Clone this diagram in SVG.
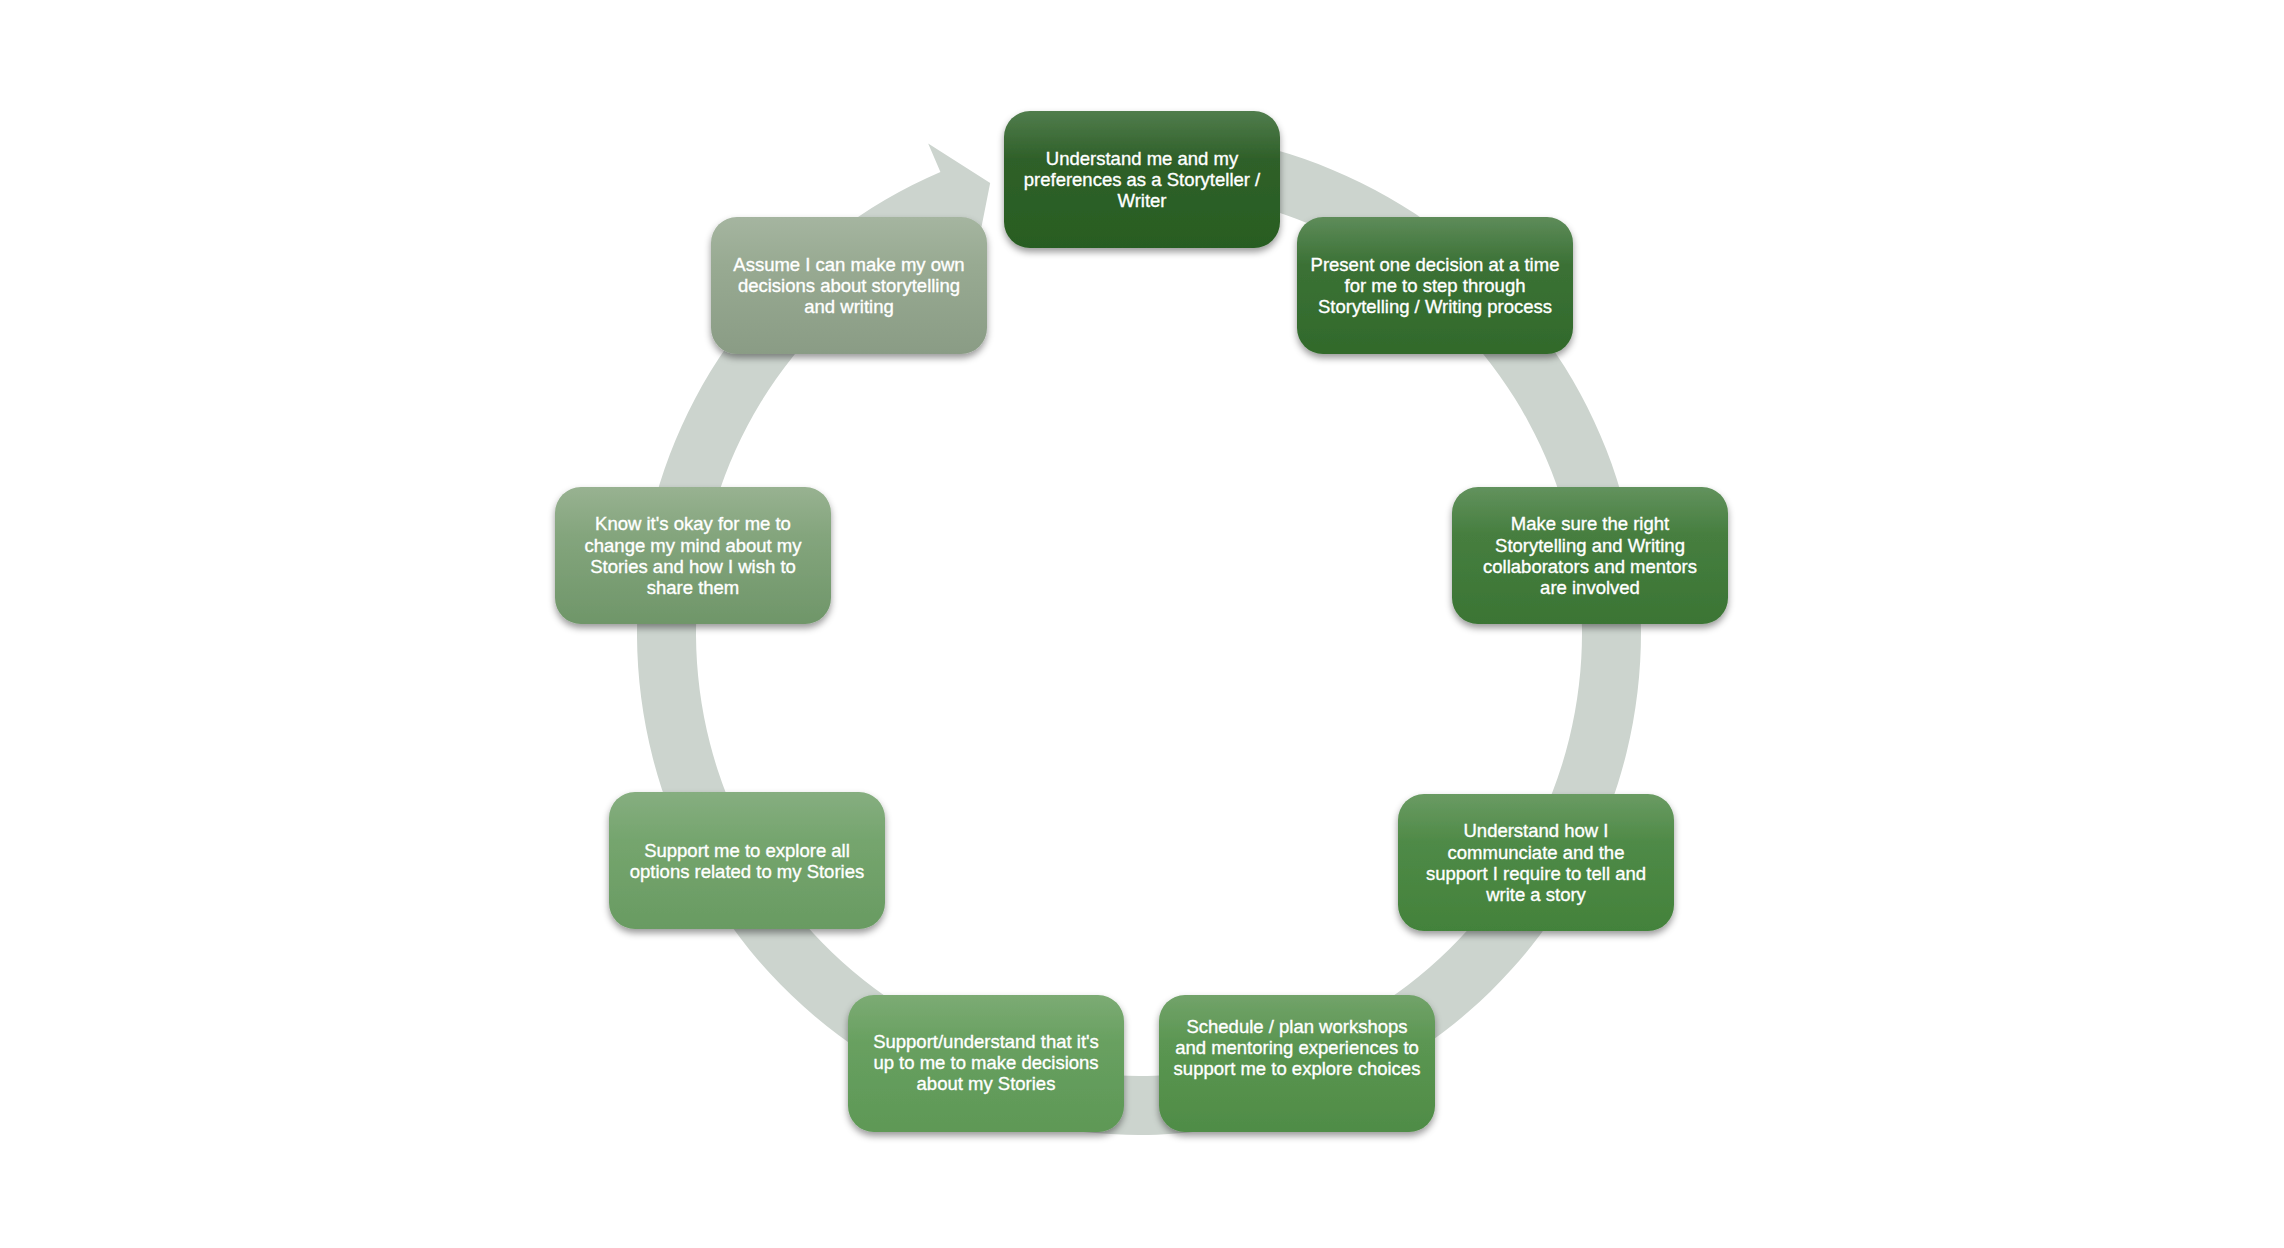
<svg xmlns="http://www.w3.org/2000/svg" width="2284" height="1248" viewBox="0 0 2284 1248">
<style>
.box{filter:url(#sh);}
.t{font-family:"Liberation Sans",Arial,sans-serif;font-size:18.5px;fill:#ffffff;stroke:#ffffff;stroke-width:0.35px;text-anchor:middle;}
.ring{fill:#ccd4ce;}
</style>
<defs>
<filter id="sh" x="-10%" y="-10%" width="120%" height="130%">
<feDropShadow dx="0" dy="4" stdDeviation="3.5" flood-color="#000" flood-opacity="0.4"/>
</filter>
<linearGradient id="g1" x1="0" y1="0" x2="0" y2="1"><stop offset="0" stop-color="#517d4d"/><stop offset="0.35" stop-color="#2f6029"/><stop offset="1" stop-color="#285d22"/></linearGradient>
<linearGradient id="g2" x1="0" y1="0" x2="0" y2="1"><stop offset="0" stop-color="#5e8c5a"/><stop offset="0.35" stop-color="#3b7135"/><stop offset="1" stop-color="#316a2b"/></linearGradient>
<linearGradient id="g3" x1="0" y1="0" x2="0" y2="1"><stop offset="0" stop-color="#62925d"/><stop offset="0.35" stop-color="#467e3f"/><stop offset="1" stop-color="#3b7534"/></linearGradient>
<linearGradient id="g4" x1="0" y1="0" x2="0" y2="1"><stop offset="0" stop-color="#6a9b63"/><stop offset="0.35" stop-color="#4f8a47"/><stop offset="1" stop-color="#43823b"/></linearGradient>
<linearGradient id="g5" x1="0" y1="0" x2="0" y2="1"><stop offset="0" stop-color="#72a36a"/><stop offset="0.35" stop-color="#5b9652"/><stop offset="1" stop-color="#4f8c46"/></linearGradient>
<linearGradient id="g6" x1="0" y1="0" x2="0" y2="1"><stop offset="0" stop-color="#7cab74"/><stop offset="0.35" stop-color="#68a060"/><stop offset="1" stop-color="#5e9856"/></linearGradient>
<linearGradient id="g7" x1="0" y1="0" x2="0" y2="1"><stop offset="0" stop-color="#86ae80"/><stop offset="0.35" stop-color="#75a56e"/><stop offset="1" stop-color="#699b62"/></linearGradient>
<linearGradient id="g8" x1="0" y1="0" x2="0" y2="1"><stop offset="0" stop-color="#98b291"/><stop offset="0.35" stop-color="#84a57d"/><stop offset="1" stop-color="#6f9669"/></linearGradient>
<linearGradient id="g9" x1="0" y1="0" x2="0" y2="1"><stop offset="0" stop-color="#a5b5a0"/><stop offset="0.35" stop-color="#98aa92"/><stop offset="1" stop-color="#8a9c85"/></linearGradient>
</defs>
<rect x="0" y="0" width="2284" height="1248" fill="#ffffff"/>
<g id="connectors">
<path class="ring" d="M1121.48,131.31 A502,502 0 1 1 940.43,171.94 L928.17,143.47 L990.17,182.97 L976.03,254.60 L963.77,226.13 A443,443 0 1 0 1123.54,190.27 Z"/>
</g>
<g id="node1">
<rect class="box" x="1004" y="111" width="276" height="137" rx="26" fill="url(#g1)"/>
<text class="t"><tspan x="1142" y="165">Understand me and my</tspan><tspan x="1142" y="186">preferences as a Storyteller /</tspan><tspan x="1142" y="207">Writer</tspan></text>
</g>
<g id="node2">
<rect class="box" x="1297" y="217" width="276" height="137" rx="26" fill="url(#g2)"/>
<text class="t"><tspan x="1435" y="271">Present one decision at a time</tspan><tspan x="1435" y="292">for me to step through</tspan><tspan x="1435" y="313">Storytelling / Writing process</tspan></text>
</g>
<g id="node3">
<rect class="box" x="1452" y="487" width="276" height="137" rx="26" fill="url(#g3)"/>
<text class="t"><tspan x="1590" y="530">Make sure the right</tspan><tspan x="1590" y="551.5">Storytelling and Writing</tspan><tspan x="1590" y="572.5">collaborators and mentors</tspan><tspan x="1590" y="594">are involved</tspan></text>
</g>
<g id="node4">
<rect class="box" x="1398" y="794" width="276" height="137" rx="26" fill="url(#g4)"/>
<text class="t"><tspan x="1536" y="837">Understand how I</tspan><tspan x="1536" y="858.5">communciate and the</tspan><tspan x="1536" y="879.5">support I require to tell and</tspan><tspan x="1536" y="901">write a story</tspan></text>
</g>
<g id="node5">
<rect class="box" x="1159" y="995" width="276" height="137" rx="26" fill="url(#g5)"/>
<text class="t"><tspan x="1297" y="1033">Schedule / plan workshops</tspan><tspan x="1297" y="1054">and mentoring experiences to</tspan><tspan x="1297" y="1075">support me to explore choices</tspan></text>
</g>
<g id="node6">
<rect class="box" x="848" y="995" width="276" height="137" rx="26" fill="url(#g6)"/>
<text class="t"><tspan x="986" y="1048">Support/understand that it's</tspan><tspan x="986" y="1069">up to me to make decisions</tspan><tspan x="986" y="1090">about my Stories</tspan></text>
</g>
<g id="node7">
<rect class="box" x="609" y="792" width="276" height="137" rx="26" fill="url(#g7)"/>
<text class="t"><tspan x="747" y="856.5">Support me to explore all</tspan><tspan x="747" y="877.5">options related to my Stories</tspan></text>
</g>
<g id="node8">
<rect class="box" x="555" y="487" width="276" height="137" rx="26" fill="url(#g8)"/>
<text class="t"><tspan x="693" y="530">Know it's okay for me to</tspan><tspan x="693" y="551.5">change my mind about my</tspan><tspan x="693" y="572.5">Stories and how I wish to</tspan><tspan x="693" y="594">share them</tspan></text>
</g>
<g id="node9">
<rect class="box" x="711" y="217" width="276" height="137" rx="26" fill="url(#g9)"/>
<text class="t"><tspan x="849" y="271">Assume I can make my own</tspan><tspan x="849" y="292">decisions about storytelling</tspan><tspan x="849" y="313">and writing</tspan></text>
</g>
</svg>
